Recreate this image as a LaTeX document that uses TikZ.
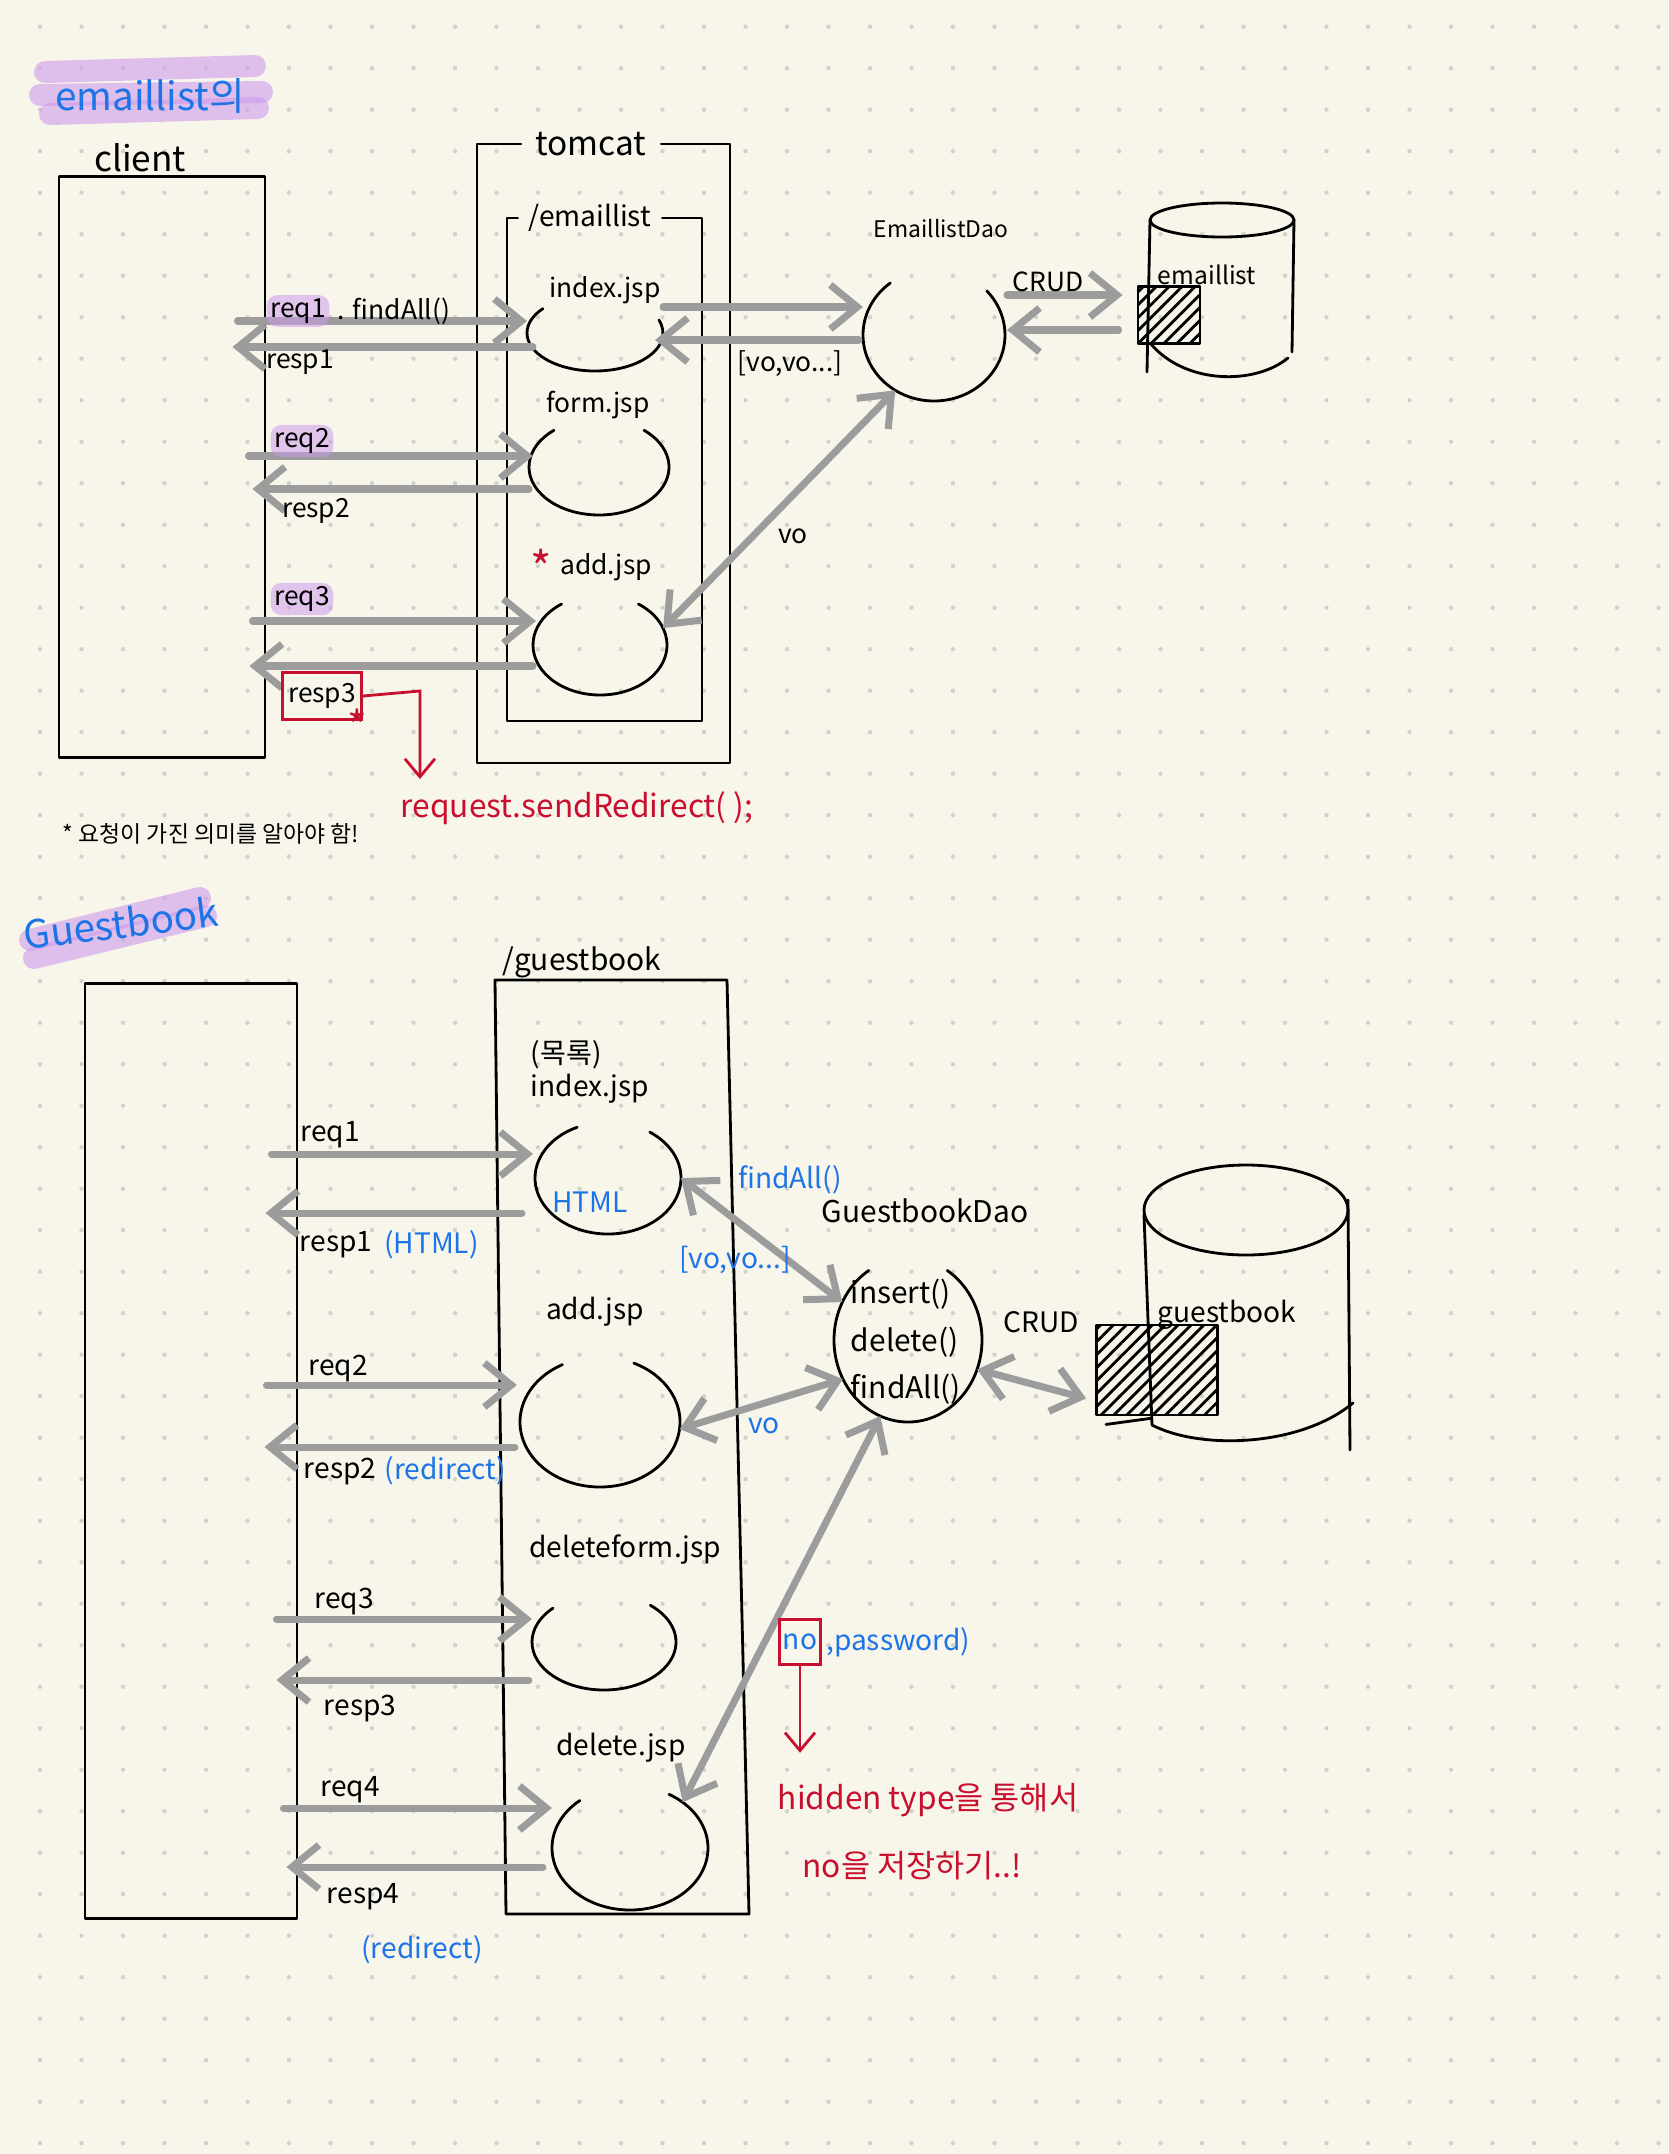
\documentclass[tikz,border=0pt]{standalone}
\usepackage{fontspec}
\setmainfont{Noto Sans CJK KR}
\usetikzlibrary{positioning,arrows.meta,shapes.geometric,patterns.meta,calc}

\definecolor{paper}{HTML}{F8F6EB}
\definecolor{dotgray}{HTML}{D2D2CB}
\definecolor{flowgray}{HTML}{9C9C9C}
\definecolor{penred}{HTML}{C8102E}
\definecolor{penblue}{HTML}{1C74E6}
\definecolor{hlpurple}{HTML}{CE9BEC}

\tikzset{
  pen/.style={draw=black, line width=0.8pt, line cap=round, line join=round},
  redline/.style={draw=penred, line width=0.8pt, line cap=round},
  flow/.style={draw=flowgray, line width=2pt, line cap=round,
    -{Straight Barb[length=2.7mm,width=4.4mm]}},
  both/.style={flow, {Straight Barb[length=2.7mm,width=4.4mm]}-{Straight Barb[length=2.7mm,width=4.4mm]}},
  cup/.style={ellipse, inner sep=0pt, outer sep=0pt, draw=none},
  lblA/.style={inner sep=1pt, font=\fontsize{7.5}{9}\selectfont},
  lblB/.style={inner sep=1pt, font=\fontsize{8}{10}\selectfont},
  hl/.style={fill=hlpurple, fill opacity=0.55, text opacity=1, rounded corners=3pt},
  marker/.style={draw=hlpurple, line width=0.22cm, line cap=round, draw opacity=0.6},
  hatch/.style={pen, pattern={Lines[angle=45,distance=2.6pt,line width=0.8pt]}}
}

\begin{document}
\begin{tikzpicture}[x=0.01cm, y=0.01cm]
% paper and dot grid
\fill[paper] (0,0) rectangle (1668,-2154);
\useasboundingbox (0,0) rectangle (1668,-2154);
\foreach \i in {0,...,39}
  \foreach \j in {0,...,51}
    \fill[dotgray] ({40+41.5*\i},{-26.7-41.5*\j}) circle (2.2);

%%%%%%%%%%%%%%%% emaillist %%%%%%%%%%%%%%%%
\draw[marker] (45,-72) -- (255,-66);
\draw[marker] (40,-95) -- (262,-92);
\draw[marker] (50,-114) -- (258,-108);
\node[font=\fontsize{11}{13}\selectfont, text=penblue] (titleA) at (150,-96) {emaillist의};

\node[font=\fontsize{10}{12}\selectfont] (clientAlbl) at (140,-158) {client};
\node[pen, rectangle, minimum width=2.06cm, minimum height=5.8cm] (clientA) at (162,-467) {};

% tomcat and /emaillist frames, open where the label sits
\node[font=\fontsize{9.5}{11}\selectfont, inner xsep=4pt] (tomcatlbl) at (591,-144) {tomcat};
\draw[pen] (tomcatlbl.west) -| (477,-763) -| (730,-144) -- (tomcatlbl.east);
\node[font=\fontsize{8}{10}\selectfont, inner xsep=3pt] (ctxA) at (590,-218) {/emaillist};
\draw[pen] (ctxA.west) -| (507,-721) -| (702,-218) -- (ctxA.east);

% open cups
\foreach \nm/\cx/\cy/\rx/\ry/\sa/\ea in {idxA/595/-333/68/38/140/380,
    formA/599/-467/70/48/130/410, addA/600/-645/67/50/125/415,
    daoA/934/-335/71/66/128/402}{
  \node[cup, minimum width=\rx*0.02cm, minimum height=\ry*0.02cm] (\nm) at (\cx,\cy) {};
  \draw[pen] ([shift={(\sa:{\rx} and {\ry})}]\nm.center)
    arc[start angle=\sa, end angle=\ea, x radius=\rx, y radius=\ry];
}
\node[lblA] (idxAlbl) at (605,-290) {index.jsp};
\node[lblA] (formAlbl) at (598,-405) {form.jsp};
\node[lblA] (addAlbl) at (606,-567) {add.jsp};
\node[text=penred, font=\fontsize{13}{13}\selectfont, inner sep=0pt, left=1pt of addAlbl] (addstar) {*};
\node[lblA, font=\fontsize{6.5}{8}\selectfont] (daoAlbl) at (941,-229) {EmaillistDao};

% database
\draw[pen] (1222,-220) ellipse [x radius=72, y radius=17];
\draw[pen] (1150,-220) -- (1147,-372);
\draw[pen] (1294,-220) -- (1292,-352);
\draw[pen] (1150,-343) .. controls (1185,-385) and (1255,-385) .. (1288,-358);
\node[hatch, minimum width=0.62cm, minimum height=0.57cm] (tblA) at (1169,-315) {};
\node[lblA, font=\fontsize{7}{8}\selectfont] (tblAlbl) at (1207,-275) {emaillist};

% requests / responses
\draw[flow] ($(clientA.east |- 0,-321)+(-29,0)$) -- (idxA.west |- 0,-321);
\draw[flow] ($(idxA.west |- 0,-347)+(6,0)$) -- ($(clientA.east |- 0,-347)+(-34,0)$);
\draw[flow] ($(clientA.east |- 0,-456)+(-18,0)$) -- ($(formA.west |- 0,-456)+(4,0)$);
\draw[flow] (formA.west |- 0,-489) -- ($(clientA.east |- 0,-489)+(-14,0)$);
\draw[flow] ($(clientA.east |- 0,-621)+(-14,0)$) -- ($(addA.west |- 0,-621)+(3,0)$);
\draw[flow] (addA.west |- 0,-666) -- ($(clientA.east |- 0,-666)+(-17,0)$);
\draw[flow] (idxA.east |- 0,-307) -- (daoA.west |- 0,-307);
\draw[flow] ($(daoA.west |- 0,-340)+(-4,0)$) -- ($(idxA.east |- 0,-340)+(-8,0)$);
\draw[flow] ($(daoA.east |- 0,-295)+(2,0)$) -- ($(tblA.west |- 0,-295)+(-14,0)$);
\draw[flow] ($(tblA.west |- 0,-330)+(-18,0)$) -- ($(daoA.east |- 0,-330)+(2,0)$);
\draw[both] (daoA.235) -- (addA.15);

\node[lblA, hl] (req1A) at (298,-311) {req1};
\node[lblA, right=1pt of req1A] (findA) {. findAll()};
\node[lblA] (resp1A) at (300,-362) {resp1};
\node[lblA, hl] (req2A) at (302,-441) {req2};
\node[lblA] (resp2A) at (316,-511) {resp2};
\node[lblA, hl] (req3A) at (302,-599) {req3};
\node[lblA, draw=penred, line width=0.8pt, minimum width=0.79cm, minimum height=0.47cm] (resp3A) at (322,-696) {resp3};
\node[text=penred, font=\fontsize{12}{12}\selectfont, inner sep=0pt] (star3A) at (357,-726) {*};
\node[font=\fontsize{9}{11}\selectfont, text=penred] (redirA) at (577,-808) {request.sendRedirect( );};
\draw[redline, -{Straight Barb[length=1.8mm,width=3mm]}] (resp3A.east) -- ++(57,5) coordinate (bendA) -- (bendA |- redirA.north);
\node[lblA] (voA) at (793,-536) {vo};
\node[lblA] (listA) at (790,-364) {[vo,vo...]};
\node[lblA] (crudA) at (1048,-282) {CRUD};
\node[font=\fontsize{6.5}{8}\selectfont] (noteA) at (211,-834) {* 요청이 가진 의미를 알아야 함!};

%%%%%%%%%%%%%%%% Guestbook %%%%%%%%%%%%%%%%
\draw[marker] (30,-940) -- (200,-898);
\draw[marker] (34,-958) -- (206,-916);
\node[font=\fontsize{11}{13}\selectfont, text=penblue, rotate=7] (titleB) at (121,-923) {Guestbook};

\node[pen, rectangle, minimum width=2.12cm, minimum height=9.34cm] (clientB) at (191,-1451) {};

\node[lblB, font=\fontsize{8.5}{10}\selectfont] (ctxB) at (582,-962) {/guestbook};
\draw[pen] (495,-980) -- (727,-980) -- (749,-1914) -- (506,-1914) -- cycle;

\foreach \nm/\cx/\cy/\rx/\ry/\sa/\ea in {idxB/608/-1178/73/56/115/415,
    addB/600/-1422/80/65/118/425, delfB/604/-1642/72/48/135/410,
    delB/630/-1848/78/62/130/420, daoB/908/-1340/74/82/122/418}{
  \node[cup, minimum width=\rx*0.02cm, minimum height=\ry*0.02cm] (\nm) at (\cx,\cy) {};
  \draw[pen] ([shift={(\sa:{\rx} and {\ry})}]\nm.center)
    arc[start angle=\sa, end angle=\ea, x radius=\rx, y radius=\ry];
}
\node[lblB, align=left, font=\fontsize{8}{9.5}\selectfont] (idxBlbl) at (590,-1072) {(목록)\\index.jsp};
\node[lblB, text=penblue] (htmlB) at (590,-1202) {HTML};
\node[lblB] (addBlbl) at (595,-1312) {add.jsp};
\node[lblB] (delfBlbl) at (625,-1550) {deleteform.jsp};
\node[lblB] (delBlbl) at (621,-1748) {delete.jsp};
\node[lblB, font=\fontsize{8.5}{10}\selectfont] (daoBlbl) at (925,-1211) {GuestbookDao};
\node[lblB, align=left, font=\fontsize{8.5}{13.5}\selectfont] (methodsB) at (906,-1342) {insert()\\delete()\\findAll()};

% database
\node[hatch, minimum width=1.21cm, minimum height=0.9cm] (tblB) at (1157,-1370) {};
\draw[pen] (1246,-1210) ellipse [x radius=102, y radius=45];
\draw[pen] (1144,-1215) -- (1152,-1425);
\draw[pen] (1348,-1200) -- (1350,-1450);
\draw[pen] (1152,-1425) .. controls (1200,-1450) and (1300,-1447) .. (1353,-1403);
\draw[pen] ($(tblB.south west)+(11,-8)$) -- ($(tblB.south west)+(55,-2)$);
\node[lblB] (tblBlbl) at (1227,-1315) {guestbook};
\node[lblB] (crudB) at (1041,-1322) {CRUD};

% requests / responses
\draw[flow] ($(clientB.east |- 0,-1154)+(-27,0)$) -- ($(idxB.west |- 0,-1154)+(-2,0)$);
\draw[flow] ($(idxB.west |- 0,-1213)+(-13,0)$) -- ($(clientB.east |- 0,-1213)+(-33,0)$);
\draw[flow] ($(clientB.east |- 0,-1385)+(-32,0)$) -- ($(addB.west |- 0,-1385)+(-3,0)$);
\draw[flow] ($(addB.west |- 0,-1447)+(-5,0)$) -- ($(clientB.east |- 0,-1447)+(-34,0)$);
\draw[flow] ($(clientB.east |- 0,-1619)+(-22,0)$) -- (delfB.west |- 0,-1619);
\draw[flow] ($(delfB.west |- 0,-1680)+(-3,0)$) -- ($(clientB.east |- 0,-1680)+(-22,0)$);
\draw[flow] ($(clientB.east |- 0,-1808)+(-15,0)$) -- (delB.west |- 0,-1808);
\draw[flow] ($(delB.west |- 0,-1867)+(-9,0)$) -- ($(clientB.east |- 0,-1867)+(-12,0)$);
\draw[both] (idxB.east) -- (daoB.150);
\draw[both] (addB.-5) -- (daoB.211);
\draw[both] (daoB.250) -- (delB.41);
\draw[both] (daoB.337) -- ($(tblB.south west)+(-9,18)$);

\node[lblB] (req1B) at (330,-1135) {req1};
\node[lblB] (resp1B) at (336,-1245) {resp1};
\node[lblB, text=penblue, right=1pt of resp1B] (resp1Bx) {(HTML)};
\node[lblB] (req2B) at (338,-1368) {req2};
\node[lblB] (resp2B) at (340,-1471) {resp2};
\node[lblB, text=penblue, right=0pt of resp2B] (resp2Bx) {(redirect)};
\node[lblB] (req3B) at (344,-1601) {req3};
\node[lblB] (resp3B) at (360,-1708) {resp3};
\node[lblB] (req4B) at (350,-1790) {req4};
\node[lblB] (resp4B) at (363,-1897) {resp4};
\node[lblB, text=penblue] (resp4Bx) at (422,-1950) {(redirect)};
\node[lblB, text=penblue] (findB) at (790,-1180) {findAll()};
\node[lblB, text=penblue] (listB) at (735,-1260) {[vo,vo...]};
\node[lblB, text=penblue] (voB) at (764,-1426) {vo};
\node[lblB, text=penblue, draw=penred, line width=0.8pt, minimum height=0.45cm] (noB) at (800,-1642) {no};
\node[lblB, text=penblue, right=0pt of noB] (pwB) {,password)};
\node[font=\fontsize{9}{11}\selectfont, text=penred] (hidB) at (928,-1800) {hidden type을 통해서};
\node[font=\fontsize{9}{11}\selectfont, text=penred] (saveB) at (912,-1866) {no을 저장하기..!};
\draw[redline, -{Straight Barb[length=1.8mm,width=3mm]}] (noB.south) -- ($(noB.south |- hidB.north)+(0,18)$);
\end{tikzpicture}
\end{document}
